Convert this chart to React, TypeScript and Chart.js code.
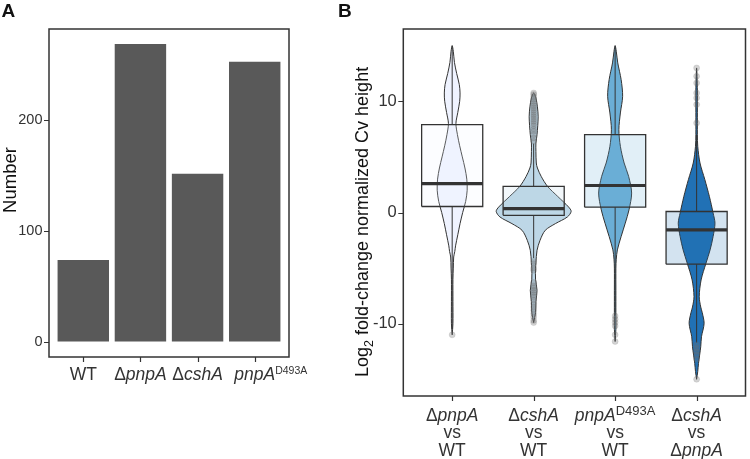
import React, { useEffect, useRef } from 'react';
import { Chart, registerables } from 'chart.js';

Chart.register(...registerables);

// ---------- Panel A data ----------
const barCategories = ['WT', 'Δ*pnpA*', 'Δ*cshA*', '*pnpA*^D493A^'];
const barValues = [74, 269, 152, 253];
const barTicks = [0, 100, 200];

// ---------- Panel B data ----------
const groupLabels = [
  'Δ*pnpA*\nvs\nWT',
  'Δ*cshA*\nvs\nWT',
  '*pnpA*^D493A^\nvs\nWT',
  'Δ*cshA*\nvs\nΔ*pnpA*',
];
const groupColors = ['#EFF3FF', '#BDD7E7', '#6BAED6', '#2171B5'];
const logTicks = [-10, 0, 10];

// violin outlines: log2 level and relative density
const violin1Y = [-11, -10, -8, -6, -5, -4, -3.5, -3, -2, -1, 0, 1, 2, 3, 4, 5, 6, 7, 8, 9, 10, 10.75, 11.5, 12.5, 13.5, 14.5, 15];
const violin1D = [0, 0.02, 0.02, 0.02, 0.03, 0.04, 0.07, 0.09, 0.15, 0.21, 0.28, 0.36, 0.4, 0.39, 0.34, 0.27, 0.2, 0.14, 0.1, 0.15, 0.2, 0.21, 0.19, 0.12, 0.06, 0.03, 0];

const violin2Y = [-9.9, -9, -8, -7, -6, -5, -4.5, -3.4, -2.5, -1.6, -1, -0.4, 0.1, 0.5, 1.45, 2.35, 3.25, 4, 4.45, 5.5, 6.25, 7, 8.6, 9.5, 10.3, 10.75];
const violin2D = [0, 0.05, 0.06, 0.09, 0.05, 0.05, 0.06, 0.09, 0.17, 0.31, 0.58, 0.9, 1.0, 0.93, 0.64, 0.37, 0.2, 0.1, 0.07, 0.06, 0.06, 0.09, 0.12, 0.1, 0.06, 0];

const violin3Y = [-11.6, -10.5, -9, -7, -5, -4.2, -3.36, -2.16, -0.96, 0.24, 1.75, 3.25, 4.45, 5.95, 7.45, 8.95, 10.45, 11.95, 13.45, 14.5, 15];
const violin3D = [0, 0.02, 0.02, 0.02, 0.02, 0.03, 0.06, 0.16, 0.27, 0.37, 0.44, 0.36, 0.24, 0.14, 0.1, 0.14, 0.2, 0.16, 0.07, 0.03, 0];

const violin4Y = [-15, -14.3, -13.57, -12.07, -11.17, -9.97, -9, -8.5, -7.57, -6.06, -4.56, -3.36, -2.16, -0.96, -0.05, 1.45, 2.95, 4.45, 5.95, 7, 9, 11, 13];
const violin4D = [0, 0.03, 0.05, 0.11, 0.13, 0.2, 0.15, 0.11, 0.07, 0.12, 0.25, 0.36, 0.44, 0.49, 0.44, 0.34, 0.22, 0.09, 0.03, 0.02, 0.02, 0.02, 0];

// box plot statistics
const boxQ1 = [0.54, -0.25, 0.48, -4.65];
const boxMedian = [2.6, 0.35, 2.43, -1.56];
const boxQ3 = [7.9, 2.35, 7.0, 0.09];
const whiskerLow = [-10.5, -4.1, -9.2, -11.7];
const whiskerHigh = [15.0, 6.2, 15.0, 7.0];

// outliers
const outliers1 = [-11.0];
const outliers2 = [6.4, 6.7, 7.0, 7.3, 7.5, 7.8, 8.0, 8.2, 8.4, 8.6, 8.8, 9.0, 9.2, 9.4, 9.6, 9.8, 10.0, 10.2, 10.4, 10.6, 10.75,
  -4.4, -4.6, -5.0, -5.2, -6.3, -6.6, -6.8, -7.0, -7.2, -7.4, -7.6, -7.9, -8.2, -8.5, -8.8, -9.1, -9.4, -9.7, -9.9];
const outliers3 = [-9.3, -9.6, -9.9, -10.2, -11.0, -11.6];
const outliers4 = [8.05, 9.7, 10.3, 10.75, 11.65, 12.25, 13.0, -11.9, -12.2, -12.5, -12.8, -13.2, -15.0];

const FONT = "'Liberation Sans', Arial, Helvetica, sans-serif";
const VIOLIN_HALF = 0.46; // category units for relative density 1
const BOX_HALF = 0.375;
const TICK_LEN = 5;
const INK = '#333';

type Seg = { text: string; style: 'n' | 'i' | 'sup' | 'sub' };
function parseRich(s: string): Seg[] {
  const out: Seg[] = [];
  const re = /(\*[^*]+\*|\^[^^]+\^|_[^_]+_)/g;
  let last = 0;
  let m: RegExpExecArray | null;
  while ((m = re.exec(s))) {
    if (m.index > last) out.push({ text: s.slice(last, m.index), style: 'n' });
    const tok = m[0];
    const inner = tok.slice(1, -1);
    out.push({ text: inner, style: tok[0] === '*' ? 'i' : tok[0] === '^' ? 'sup' : 'sub' });
    last = m.index + tok.length;
  }
  if (last < s.length) out.push({ text: s.slice(last), style: 'n' });
  return out;
}

interface RichFont { size: number; small: number; shift: number; color: string }

function drawRich(ctx: CanvasRenderingContext2D, s: string, x: number, y: number, align: 'center' | 'left', f: RichFont, anchorMain = false) {
  const segs = parseRich(s);
  const fontOf = (st: string) => `${st === 'i' ? 'italic ' : ''}normal ${st === 'sup' || st === 'sub' ? f.small : f.size}px ${FONT}`;
  const widths = segs.map((seg) => { ctx.font = fontOf(seg.style); return ctx.measureText(seg.text).width; });
  const total = widths.reduce((a, b) => a + b, 0);
  const anchorW = anchorMain
    ? widths.reduce((a, w, i) => (segs[i].style === 'sup' || segs[i].style === 'sub' ? a : a + w), 0)
    : total;
  let cx = align === 'center' ? x - anchorW / 2 : x;
  ctx.textAlign = 'left';
  ctx.textBaseline = 'alphabetic';
  ctx.fillStyle = f.color;
  segs.forEach((seg, i) => {
    ctx.font = fontOf(seg.style);
    const dy = seg.style === 'sup' ? -f.shift : seg.style === 'sub' ? f.shift : 0;
    ctx.fillText(seg.text, cx, y + dy);
    cx += widths[i];
  });
}

interface DecorCfg {
  letter: string; letterX: number; letterY: number;
  labels: string[]; labelFont: RichFont; firstBaseline: number; lineGap: number; anchorMain: boolean;
  title: string; titleX: number; titleY: number; titleAlign: 'center' | 'left'; titleFont: RichFont;
}

function decorPlugin(cfg: DecorCfg) {
  return {
    id: 'decor' + cfg.letter,
    afterDraw(chart: any) {
      const { ctx, chartArea: a } = chart;
      const xs = chart.scales.x;
      const ys = chart.scales.y;
      ctx.save();
      // tick marks
      ctx.strokeStyle = INK;
      ctx.lineWidth = 1.2;
      ctx.beginPath();
      xs.ticks.forEach((t: any) => {
        const px = Math.round(xs.getPixelForValue(t.value)) + 0.5;
        ctx.moveTo(px, a.bottom);
        ctx.lineTo(px, a.bottom + TICK_LEN);
      });
      ys.ticks.forEach((t: any) => {
        const py = Math.round(ys.getPixelForValue(t.value)) + 0.5;
        ctx.moveTo(a.left - TICK_LEN, py);
        ctx.lineTo(a.left, py);
      });
      ctx.stroke();
      // frame
      ctx.lineWidth = 1.5;
      ctx.strokeRect(a.left, a.top, a.right - a.left, a.bottom - a.top);
      // panel letter
      ctx.fillStyle = '#111';
      ctx.font = `bold 19px ${FONT}`;
      ctx.textAlign = 'left';
      ctx.textBaseline = 'alphabetic';
      ctx.fillText(cfg.letter, cfg.letterX, cfg.letterY);
      // category labels
      cfg.labels.forEach((lab, i) => {
        const px = xs.getPixelForValue(i + 1);
        lab.split('\n').forEach((line, j) => {
          drawRich(ctx, line, px, a.bottom + cfg.firstBaseline + j * cfg.lineGap, 'center', cfg.labelFont, cfg.anchorMain);
        });
      });
      // y title
      ctx.translate(cfg.titleX, cfg.titleY);
      ctx.rotate(-Math.PI / 2);
      drawRich(ctx, cfg.title, 0, 0, cfg.titleAlign, cfg.titleFont);
      ctx.restore();
    },
  };
}

function fixedTicks(values: number[]) {
  return (s: any) => { s.ticks = values.map((v) => ({ value: v })); };
}

const hiddenGrid = { display: true, drawOnChartArea: false, drawTicks: true, tickLength: TICK_LEN, color: 'rgba(0,0,0,0)', offset: false };

function buildBarConfig(): any {
  return {
    type: 'bar',
    data: {
      datasets: [{
        data: barValues.map((v, i) => ({ x: i + 1, y: v })),
        backgroundColor: '#595959',
        borderWidth: 0,
        barPercentage: 0.9,
        categoryPercentage: 1,
      }],
    },
    options: {
      animation: false,
      responsive: false,
      devicePixelRatio: 1,
      layout: { padding: { left: 0, right: 41, top: 29, bottom: 0 } },
      plugins: { legend: { display: false }, tooltip: { enabled: false } },
      scales: {
        x: {
          type: 'linear', min: 0.4, max: 4.6, offset: false,
          afterBuildTicks: fixedTicks(barCategories.map((_, i) => i + 1)),
          ticks: { display: false },
          grid: hiddenGrid,
          border: { display: false },
          afterFit: (s: any) => { s.height = 102; },
        },
        y: {
          min: -13.45, max: 282.5,
          afterBuildTicks: fixedTicks(barTicks),
          ticks: { color: INK, font: { family: FONT, size: 14.5 }, padding: 1.5 },
          grid: hiddenGrid,
          border: { display: false },
          afterFit: (s: any) => { s.width = 49; },
        },
      },
    },
    plugins: [decorPlugin({
      letter: 'A', letterX: 1.5, letterY: 16.7,
      labels: barCategories,
      labelFont: { size: 17.5, small: 10.5, shift: 6, color: INK },
      firstBaseline: 23, lineGap: 17.6, anchorMain: true,
      title: 'Number', titleX: 16.2, titleY: 180, titleAlign: 'center',
      titleFont: { size: 18.5, small: 13, shift: 4, color: '#111' },
    })],
  };
}

function withAlpha(hex: string, a: number) {
  const r = parseInt(hex.slice(1, 3), 16), g = parseInt(hex.slice(3, 5), 16), b = parseInt(hex.slice(5, 7), 16);
  return `rgba(${r},${g},${b},${a})`;
}

function buildViolinConfig(): any {
  const ys = [violin1Y, violin2Y, violin3Y, violin4Y];
  const ds = [violin1D, violin2D, violin3D, violin4D];
  const outs = [outliers1, outliers2, outliers3, outliers4];
  const datasets: any[] = [];
  groupColors.forEach((color, g) => {
    const cx = g + 1;
    const yv = ys[g];
    const dv = ds[g];
    const right = yv.map((y, i) => ({ x: cx + dv[i] * VIOLIN_HALF, y }));
    const left: { x: number; y: number }[] = [];
    for (let i = yv.length - 2; i >= 0; i--) left.push({ x: cx - dv[i] * VIOLIN_HALF, y: yv[i] });
    datasets.push({
      type: 'line', data: [...right, ...left], showLine: true, pointRadius: 0,
      borderColor: INK, borderWidth: 1, backgroundColor: color, fill: 'shape',
      tension: 0.3, order: 50,
    });
    datasets.push({
      type: 'line', data: [{ x: cx, y: boxQ3[g] }, { x: cx, y: whiskerHigh[g] }],
      pointRadius: 0, borderColor: INK, borderWidth: 1, fill: false, order: 40,
    });
    datasets.push({
      type: 'line', data: [{ x: cx, y: whiskerLow[g] }, { x: cx, y: boxQ1[g] }],
      pointRadius: 0, borderColor: INK, borderWidth: 1, fill: false, order: 40,
    });
    datasets.push({
      type: 'line',
      data: [
        { x: cx - BOX_HALF, y: boxQ1[g] }, { x: cx + BOX_HALF, y: boxQ1[g] },
        { x: cx + BOX_HALF, y: boxQ3[g] }, { x: cx - BOX_HALF, y: boxQ3[g] },
        { x: cx - BOX_HALF, y: boxQ1[g] },
      ],
      pointRadius: 0, borderColor: INK, borderWidth: 1.3, backgroundColor: withAlpha(color, 0.2),
      fill: 'shape', tension: 0, order: 30,
    });
    datasets.push({
      type: 'line', data: [{ x: cx - BOX_HALF, y: boxMedian[g] }, { x: cx + BOX_HALF, y: boxMedian[g] }],
      pointRadius: 0, borderColor: INK, borderWidth: 3.2, fill: false, order: 20,
    });
    datasets.push({
      type: 'scatter', data: outs[g].map((y) => ({ x: cx, y })),
      pointRadius: 3, backgroundColor: 'rgba(110,110,110,0.3)', borderColor: 'rgba(110,110,110,0.3)',
      borderWidth: 0.5, order: 10,
    });
  });
  return {
    type: 'scatter',
    data: { datasets },
    options: {
      animation: false,
      responsive: false,
      devicePixelRatio: 1,
      layout: { padding: { left: 0, right: 2, top: 29, bottom: 0 } },
      plugins: { legend: { display: false }, tooltip: { enabled: false } },
      scales: {
        x: {
          type: 'linear', min: 0.4, max: 4.6,
          afterBuildTicks: fixedTicks(groupLabels.map((_, i) => i + 1)),
          ticks: { display: false },
          grid: hiddenGrid,
          border: { display: false },
          afterFit: (s: any) => { s.height = 63; },
        },
        y: {
          type: 'linear', min: -16.5, max: 16.5,
          afterBuildTicks: fixedTicks(logTicks),
          ticks: { color: INK, font: { family: FONT, size: 16.5 }, padding: 1.5 },
          grid: hiddenGrid,
          border: { display: false },
          afterFit: (s: any) => { s.width = 73.3; },
        },
      },
    },
    plugins: [decorPlugin({
      letter: 'B', letterX: 8, letterY: 17,
      labels: groupLabels,
      labelFont: { size: 17.5, small: 13, shift: 6, color: INK },
      firstBaseline: 24.5, lineGap: 17.6, anchorMain: false,
      title: 'Log_2_ fold-change normalized Cv height', titleX: 38, titleY: 377, titleAlign: 'left',
      titleFont: { size: 18, small: 12.5, shift: 4.5, color: '#111' },
    })],
  };
}

export default function App() {
  const refA = useRef<HTMLCanvasElement>(null);
  const refB = useRef<HTMLCanvasElement>(null);
  useEffect(() => {
    const a = new Chart(refA.current as HTMLCanvasElement, buildBarConfig());
    const b = new Chart(refB.current as HTMLCanvasElement, buildViolinConfig());
    return () => { a.destroy(); b.destroy(); };
  }, []);
  return (
    <div style={{ position: 'absolute', left: 0, top: 0, width: 750, height: 459, background: '#fff', overflow: 'hidden' }}>
      <canvas ref={refA} width={330} height={459} style={{ position: 'absolute', left: 0, top: 0, width: 330, height: 459 }} />
      <canvas ref={refB} width={420} height={459} style={{ position: 'absolute', left: 330, top: 0, width: 420, height: 459 }} />
    </div>
  );
}
